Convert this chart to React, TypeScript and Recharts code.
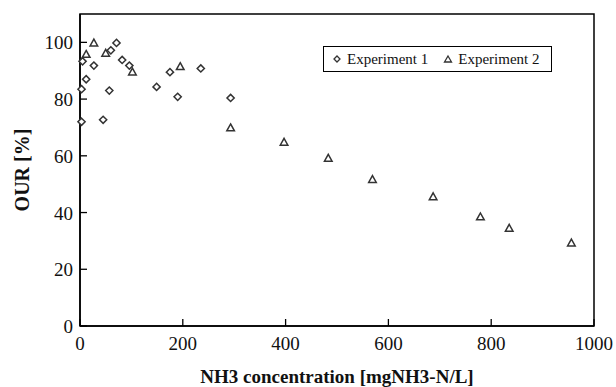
import React from 'react';
import { ScatterChart, Scatter, XAxis, YAxis, ReferenceArea } from 'recharts';

const exp1X = [3, 3, 5, 12, 27, 45, 57, 60, 71, 82, 96, 149, 175, 190, 235, 293];
const exp1Y = [72, 83.5, 93.3, 87, 91.8, 72.7, 83, 97.2, 99.8, 93.8, 91.8, 84.3, 89.5, 80.8, 90.8, 80.4];
const exp2X = [12, 27, 50, 102, 195, 293, 397, 483, 569, 687, 779, 835, 956];
const exp2Y = [95.8, 99.8, 96.2, 89.6, 91.5, 69.9, 64.8, 59.2, 51.7, 45.6, 38.5, 34.5, 29.3];
const xTicks = [0, 200, 400, 600, 800, 1000];
const yTicks = [0, 20, 40, 60, 80, 100];
const seriesNames = ['Experiment 1', 'Experiment 2'];

const data1 = exp1X.map((x, i) => ({ x, y: exp1Y[i] }));
const data2 = exp2X.map((x, i) => ({ x, y: exp2Y[i] }));

const FONT = "'Liberation Serif', 'DejaVu Serif', 'Times New Roman', Times, serif";
const MARK = '#333';

const Diamond = (p: any) => {
  const { cx, cy } = p;
  const r = 3.6;
  return (
    <polygon
      points={`${cx},${cy - r} ${cx + r},${cy} ${cx},${cy + r} ${cx - r},${cy}`}
      fill="#fff"
      stroke={MARK}
      strokeWidth={1.5}
    />
  );
};

const Triangle = (p: any) => {
  const { cx, cy } = p;
  const r = 3.8;
  return (
    <polygon
      points={`${cx},${cy - r} ${cx + r},${cy + r * 0.8} ${cx - r},${cy + r * 0.8}`}
      fill="#fff"
      stroke={MARK}
      strokeWidth={1.5}
    />
  );
};

const XTick = (p: any) => {
  const { x, y, payload } = p;
  return (
    <g>
      <line x1={x} y1={y} x2={x} y2={y - 7} stroke="#000" strokeWidth={1.3} />
      <text x={x} y={y + 24} textAnchor="middle" style={{ fontFamily: FONT }} fontSize={19} fill="#111">
        {payload.value}
      </text>
    </g>
  );
};

const YTick = (p: any) => {
  const { x, y, payload } = p;
  return (
    <g>
      <line x1={x} y1={y} x2={x + 7} y2={y} stroke="#000" strokeWidth={1.3} />
      <text x={x - 7} y={y + 7} textAnchor="end" style={{ fontFamily: FONT }} fontSize={19} fill="#111">
        {payload.value}
      </text>
    </g>
  );
};

const XTitle = (p: any) => {
  const vb = p.viewBox;
  return (
    <text
      x={vb.x + vb.width / 2}
      y={vb.y + vb.height - 4}
      textAnchor="middle"
      style={{ fontFamily: FONT }}
      fontWeight="bold"
      fontSize={19}
      fill="#111"
    >
      NH3 concentration [mgNH3-N/L]
    </text>
  );
};

const YTitle = (p: any) => {
  const vb = p.viewBox;
  const cx = 22;
  const cy = vb.y + vb.height / 2;
  return (
    <text
      x={cx}
      y={cy}
      transform={`rotate(-90, ${cx}, ${cy})`}
      textAnchor="middle"
      dominantBaseline="central"
      style={{ fontFamily: FONT }}
      fontWeight="bold"
      fontSize={20}
      fill="#111"
    >
      OUR [%]
    </text>
  );
};

const LegendBox = () => (
  <div
    style={{
      position: 'absolute',
      left: 323,
      top: 46,
      width: 229,
      height: 26,
      border: '1.3px solid #000',
      display: 'flex',
      alignItems: 'center',
      fontFamily: FONT,
      fontSize: 15,
      color: '#111',
      boxSizing: 'border-box',
      background: '#fff',
    }}
  >
    <svg width={12} height={12} style={{ marginLeft: 7, marginRight: 4 }}>
      <polygon points="6,3 9,6 6,9 3,6" fill="#fff" stroke={MARK} strokeWidth={1.3} />
    </svg>
    <span>{seriesNames[0]}</span>
    <svg width={12} height={12} style={{ marginLeft: 14, marginRight: 4 }}>
      <polygon points="6,3 9.5,9 2.5,9" fill="#fff" stroke={MARK} strokeWidth={1.3} />
    </svg>
    <span>{seriesNames[1]}</span>
  </div>
);

export default function App() {
  return (
    <div style={{ position: 'absolute', left: 0, top: 0, width: 616, height: 387, background: '#fff' }}>
      <ScatterChart width={616} height={387} margin={{ top: 14, right: 22, bottom: 0, left: 0 }}>
        <XAxis
          type="number"
          dataKey="x"
          domain={[0, 1000]}
          ticks={xTicks}
          height={61}
          tickSize={0}
          tickMargin={0}
          tickLine={false}
          tick={<XTick />}
          axisLine={{ stroke: '#000', strokeWidth: 1.5 }}
          label={<XTitle />}
        />
        <YAxis
          type="number"
          dataKey="y"
          domain={[0, 110]}
          ticks={yTicks}
          width={80}
          tickSize={0}
          tickMargin={0}
          tickLine={false}
          tick={<YTick />}
          axisLine={{ stroke: '#000', strokeWidth: 1.5 }}
          label={<YTitle />}
        />
        <ReferenceArea x1={0} x2={1000} y1={0} y2={110} fill="none" stroke="#000" strokeWidth={1.5} ifOverflow="visible" />
        <Scatter name={seriesNames[0]} data={data1} shape={<Diamond />} isAnimationActive={false} />
        <Scatter name={seriesNames[1]} data={data2} shape={<Triangle />} isAnimationActive={false} />
      </ScatterChart>
      <LegendBox />
    </div>
  );
}
